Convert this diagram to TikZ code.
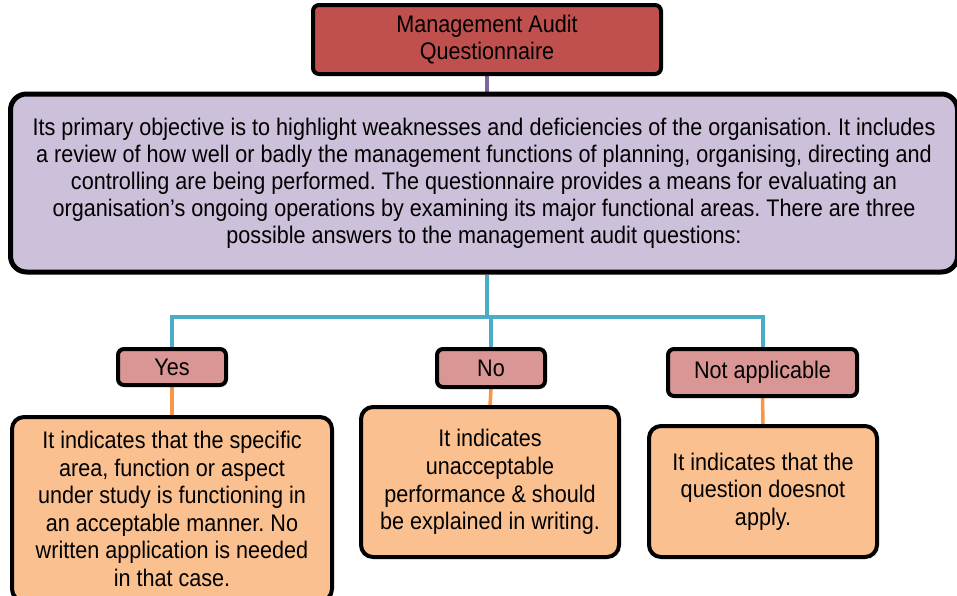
\documentclass[tikz,border=0pt]{standalone}
\usepackage{fontspec}
\setmainfont{Liberation Sans}[FakeStretch=0.9]
\usetikzlibrary{backgrounds}
\frenchspacing
\definecolor{topred}{HTML}{C0504D}
\definecolor{lilac}{HTML}{CCC0DA}
\definecolor{pinkred}{HTML}{D99694}
\definecolor{peach}{HTML}{FAC090}
\definecolor{cblue}{HTML}{4BACC6}
\definecolor{corange}{HTML}{F79646}
\definecolor{cpurple}{HTML}{8064A2}
\tikzset{
  box/.style={draw=black, line width=4pt, rounded corners=6pt, align=center, inner sep=0pt},
  bigbox/.style={box, line width=5pt, rounded corners=16pt, fill=lilac},
  labbox/.style={box, fill=pinkred},
  descbox/.style={box, rounded corners=12pt, fill=peach},
  txt/.style={font=\fontsize{24}{27}\selectfont},
  dtxt/.style={font=\fontsize{24}{27.6}\selectfont},
  bconn/.style={draw=cblue, line width=4pt},
  oconn/.style={draw=corange, line width=3.5pt},
  pconn/.style={draw=cpurple, line width=4pt},
}
\begin{document}
\begin{tikzpicture}[x=1pt,y=-1pt]
\useasboundingbox (0,0) rectangle (957,595);
\node[box, fill=topred, minimum width=348pt, minimum height=69pt, txt] (top) at (487,39.5) {Management Audit\\Questionnaire};
\node[bigbox, minimum width=947pt, minimum height=178pt, txt] (obj) at (484,183) {Its primary objective is to highlight weaknesses and deficiencies of the organisation. It includes\\a review of how well or badly the management functions of planning, organising, directing and\\controlling are being performed. The questionnaire provides a means for evaluating an\\organisation’s ongoing operations by examining its major functional areas. There are three\\possible answers to the management audit questions:};
\node[labbox, minimum width=108pt, minimum height=36pt, txt] (yes) at (172,367) {Yes};
\node[labbox, minimum width=108pt, minimum height=38pt, txt] (no) at (491,368) {No};
\node[labbox, minimum width=189pt, minimum height=47pt, txt] (na) at (762.5,372.5) {Not applicable};
\node[descbox, minimum width=320pt, minimum height=184pt, dtxt] (yesd) at (172,509) {It indicates that the specific\\area, function or aspect\\under study is functioning in\\an acceptable manner. No\\written application is needed\\in that case.};
\node[descbox, minimum width=258pt, minimum height=150pt, dtxt] (nod) at (490,482) {It indicates\\unacceptable\\performance \& should\\be explained in writing.};
\node[descbox, minimum width=228pt, minimum height=131pt, dtxt] (nad) at (763,491.5) {It indicates that the\\question doesnot\\apply.};
\coordinate (hub) at (487,317);
\begin{scope}[on background layer]
\path[pconn] (top.south) -- (obj.north -| top.south);
\path[bconn] (obj.south -| hub) -- (hub);
\path[bconn] (hub) -| (yes.north);
\path[bconn] (hub) -| (na.north);
\path[bconn] (hub) -| (no.north);
\path[oconn] (yes.south) -- (yesd.north);
\path[oconn] (no.south) -- (nod.north);
\path[oconn] (na.south) -- (nad.north);
\end{scope}
\end{tikzpicture}
\end{document}
